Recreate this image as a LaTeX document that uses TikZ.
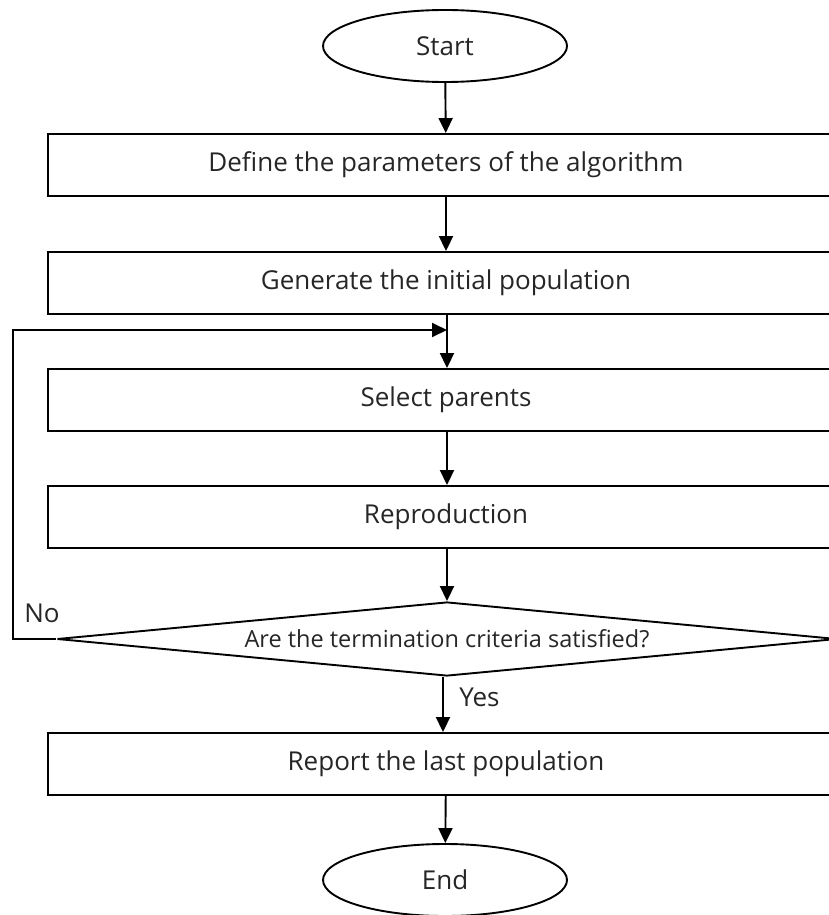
\documentclass[tikz,border=0pt]{standalone}
\usepackage{fontspec}
\setmainfont{Open Sans}
\usetikzlibrary{shapes.geometric,arrows.meta}
\begin{document}
\begin{tikzpicture}[x=1pt,y=-1pt,
  line width=1.9pt,
  every node/.style={font=\fontsize{26}{30}\selectfont, text=black!85},
  term/.style={draw, ellipse, minimum width=244pt, minimum height=72pt, inner sep=0pt},
  procbox/.style={draw, rectangle, minimum width=796pt, minimum height=62pt, inner sep=0pt},
  decision/.style={draw, diamond, aspect=10.5, minimum width=780pt, minimum height=74pt, inner sep=0pt, font=\fontsize{23.5}{27}\selectfont},
  flow/.style={-{Triangle[length=15pt,width=14pt]}},
  lbl/.style={font=\fontsize{26}{30}\selectfont}
]
\useasboundingbox (0,0) rectangle (829,915);
\clip (0,0) rectangle (829,915);
\node[term] (start) at (445,46) {Start};
\node[procbox] (def) at (446,165) {Define the parameters of the algorithm};
\node[procbox] (gen) at (446,283) {Generate the initial population};
\node[procbox] (sel) at (446,400) {Select parents};
\node[procbox] (rep) at (446,517) {Reproduction};
\node[decision] (dec) at (447,639) {Are the termination criteria satisfied?};
\node[procbox] (rpt) at (446,764) {Report the last population};
\node[term] (end) at (445,880) {End};
\coordinate (merge) at (447,330);
\coordinate (loopbot) at (13,639);
\coordinate (looptop) at (13,330);

\draw[flow] (start) -- (def);
\draw[flow] (def) -- (gen);
\draw (gen.south -| merge) -- (merge);
\draw[flow] (merge) -- (sel.north -| merge);
\draw[flow] (sel.south -| merge) -- (rep.north -| merge);
\draw[flow] (rep.south -| merge) -- (dec.north);
\draw[flow] (dec.west) -- (loopbot) -- (looptop) -- (merge);
\draw[flow] (dec.south -| 443,0) -- (rpt.north -| 443,0);
\draw[flow] (rpt) -- (end);
\node[lbl, anchor=west] (no) at (20,613) {No};
\node[lbl, anchor=west] (yes) at (455,697) {Yes};
\end{tikzpicture}
\end{document}
